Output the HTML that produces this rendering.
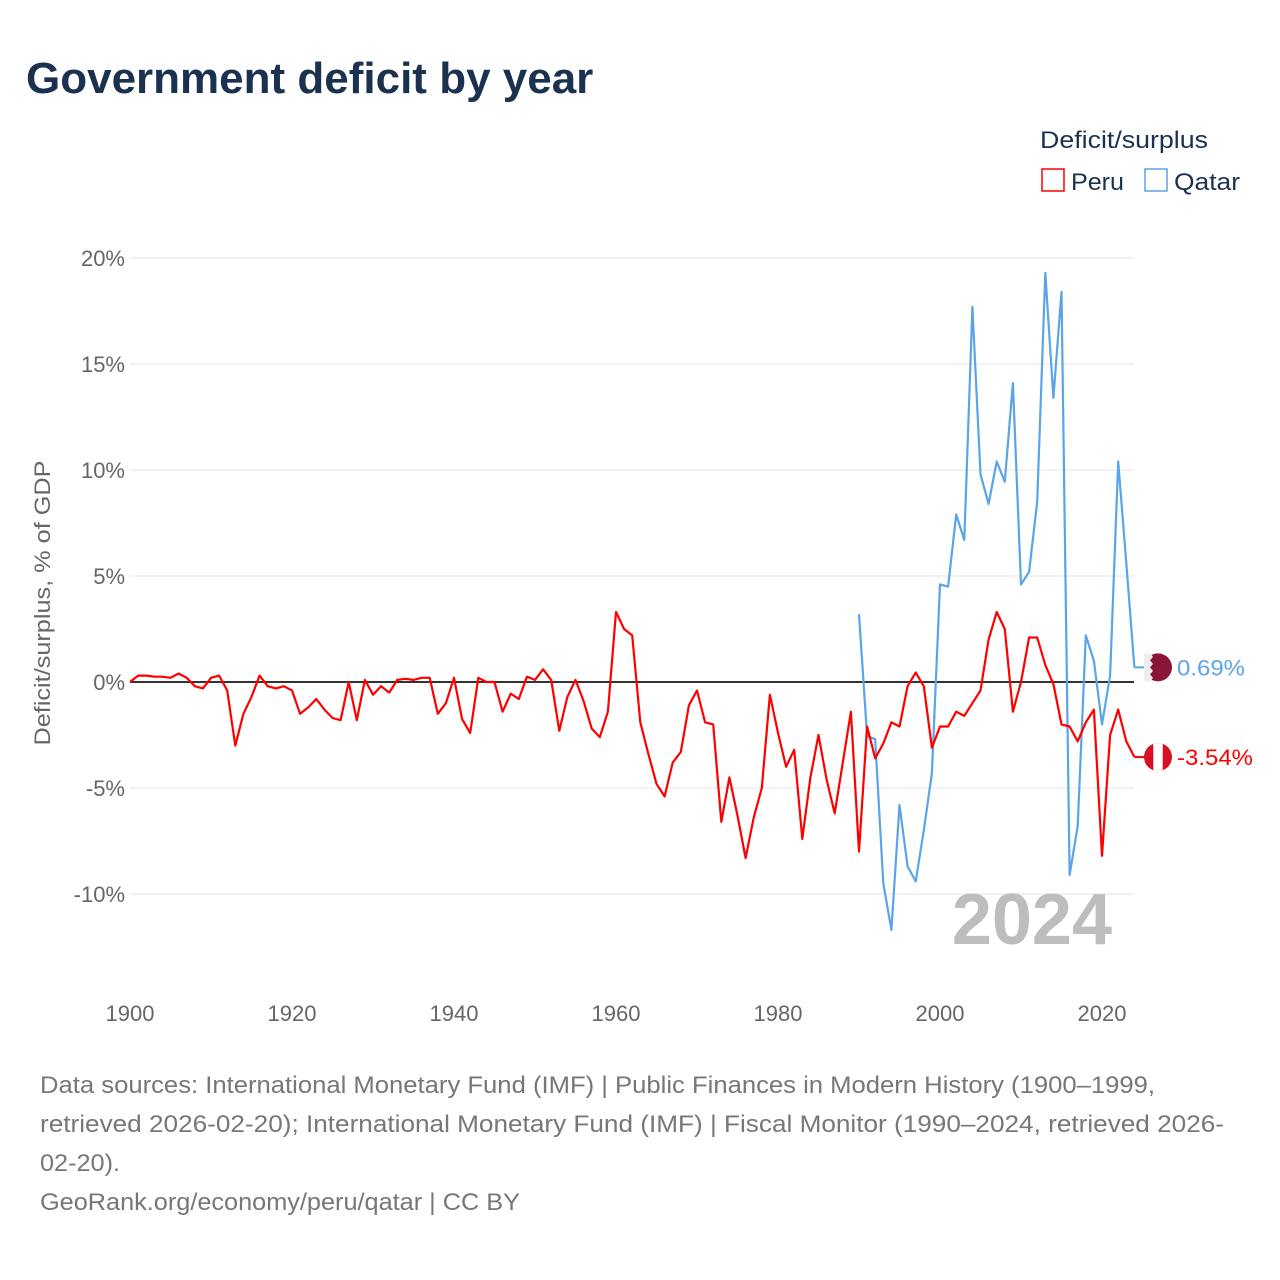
<!DOCTYPE html>
<html><head><meta charset="utf-8"><style>
body{margin:0;background:#fff;font-family:"Liberation Sans",sans-serif;}
#wrap{position:relative;width:1280px;height:1280px;overflow:hidden;}
</style></head><body>
<div id="wrap">
<svg id="chart" width="1280" height="1280" xmlns="http://www.w3.org/2000/svg">
<text x="26" y="93" font-size="44" font-weight="bold" fill="#1b3150">Government deficit by year</text>
<text x="1040" y="148" font-size="24" fill="#1b3150" textLength="168" lengthAdjust="spacingAndGlyphs">Deficit/surplus</text>
<g><rect x="1042" y="169" width="22" height="22" fill="none" stroke="#f00" stroke-width="1.5"/><text x="1071" y="190" font-size="24" fill="#1b3150" textLength="53" lengthAdjust="spacingAndGlyphs">Peru</text></g>
<g><rect x="1145" y="169" width="22" height="22" fill="none" stroke="#5ba4e8" stroke-width="1.5"/><text x="1174" y="190" font-size="24" fill="#1b3150" textLength="66" lengthAdjust="spacingAndGlyphs">Qatar</text></g>
<text transform="translate(50,603) rotate(-90)" text-anchor="middle" font-size="22" fill="#666" textLength="285" lengthAdjust="spacingAndGlyphs">Deficit/surplus, % of GDP</text>
<g id="grid"></g><g id="yticks"></g><g id="xticks"></g>
<text x="1112" y="944" text-anchor="end" font-size="72" font-weight="bold" fill="#bdbdbd">2024</text>
<g id="series"></g>
<g id="endlabels"></g>
<g font-size="24" fill="#777">
<text x="40" y="1093" textLength="1115" lengthAdjust="spacingAndGlyphs">Data sources: International Monetary Fund (IMF) | Public Finances in Modern History (1900–1999,</text>
<text x="40" y="1132" textLength="1184" lengthAdjust="spacingAndGlyphs">retrieved 2026-02-20); International Monetary Fund (IMF) | Fiscal Monitor (1990–2024, retrieved 2026-</text>
<text x="40" y="1171" textLength="80" lengthAdjust="spacingAndGlyphs">02-20).</text>
<text x="40" y="1210" textLength="480" lengthAdjust="spacingAndGlyphs">GeoRank.org/economy/peru/qatar | CC BY</text>
</g>
</svg>
</div>
<script>
const peruStart = 1900;
const peruValues = [0,0.3,0.3,0.25,0.25,0.2,0.4,0.2,-0.2,-0.3,0.2,0.3,-0.4,-3.0,-1.5,-0.7,0.3,-0.2,-0.3,-0.2,-0.4,-1.5,-1.2,-0.8,-1.3,-1.7,-1.8,0,-1.8,0.1,-0.6,-0.2,-0.5,0.1,0.15,0.1,0.2,0.2,-1.5,-1.0,0.2,-1.75,-2.4,0.2,0,0,-1.4,-0.55,-0.8,0.25,0.1,0.6,0.1,-2.3,-0.7,0.1,-0.9,-2.2,-2.6,-1.4,3.3,2.5,2.2,-1.9,-3.4,-4.8,-5.4,-3.8,-3.3,-1.1,-0.4,-1.9,-2.0,-6.6,-4.5,-6.3,-8.3,-6.4,-5.0,-0.6,-2.4,-4.0,-3.2,-7.4,-4.5,-2.5,-4.6,-6.2,-3.8,-1.4,-8.0,-2.1,-3.6,-2.9,-1.9,-2.1,-0.2,0.45,-0.2,-3.1,-2.1,-2.1,-1.4,-1.6,-1.0,-0.4,2.0,3.3,2.5,-1.4,0,2.1,2.1,0.8,-0.1,-2.0,-2.1,-2.8,-1.9,-1.3,-8.2,-2.5,-1.3,-2.8,-3.54];
const qatarStart = 1990;
const qatarValues = [3.2,-2.55,-2.7,-9.5,-11.7,-5.8,-8.7,-9.4,-7.0,-4.3,4.6,4.5,7.9,6.7,17.7,9.8,8.4,10.4,9.45,14.1,4.6,5.2,8.5,19.3,13.4,18.4,-9.1,-6.8,2.2,1.0,-2.0,0.3,10.4,5.6,0.69];
const yTickValues = [-10,-5,0,5,10,15,20];
const xTickValues = [1900,1920,1940,1960,1980,2000,2020];

const NS="http://www.w3.org/2000/svg";
const X=y=>130+(y-1900)*8.1;
const Y=v=>682-v*21.2;
function mk(t,a,p){const e=document.createElementNS(NS,t);for(const k in a)e.setAttribute(k,a[k]);p.appendChild(e);return e;}
const grid=document.getElementById('grid'),yt=document.getElementById('yticks'),xt=document.getElementById('xticks');
yTickValues.forEach(v=>{
  const l=mk('line',{x1:130,x2:1134,y1:Y(v),y2:Y(v),stroke:v===0?'#333':'#e6e6e6','stroke-width':v===0?2:1},grid);
  
  
  const t=mk('text',{x:125,y:Y(v)+8,'text-anchor':'end','font-size':22,fill:'#666'},yt);
  t.textContent=v+'%';
  
  
});
xTickValues.forEach(v=>{
  const t=mk('text',{x:X(v),y:1021,'text-anchor':'middle','font-size':22,fill:'#666'},xt);
  t.textContent=v;
  
  
});
const ser=document.getElementById('series');
function line(start,vals,color,name){
  const d=vals.map((v,i)=>(i?'L':'M')+X(start+i).toFixed(1)+','+Y(v).toFixed(1)).join('');
  const p=mk('path',{d:d,fill:'none',stroke:color,'stroke-width':2.2,'stroke-linejoin':'round'},ser);
  
  
  const lastX=X(start+vals.length-1), lastY=Y(vals[vals.length-1]);
  const e=mk('line',{x1:lastX,x2:lastX+10,y1:lastY,y2:lastY,stroke:color,'stroke-width':2},ser);
  
  
}
line(qatarStart,qatarValues,'#5ba4e8','qatar-line');
line(peruStart,peruValues,'#f00','peru-line');
const el=document.getElementById('endlabels');
const qy=Y(qatarValues[qatarValues.length-1]), py=Y(peruValues[peruValues.length-1]);
const qg=mk('g',{},el);


mk('circle',{cx:1158,cy:qy,r:14,fill:'#8a1538'},qg);
mk('path',{d:`M1144,${qy-14}h6l3,3.5l-3,3.5l3,3.5l-3,3.5l3,3.5l-3,3.5l3,3.5l-3,3.5h-6z`,fill:'#eee'},qg);
const qt=mk('text',{x:1177,y:qy+8,'font-size':22,fill:'#5ba4e8',textLength:68,lengthAdjust:'spacingAndGlyphs'},el);
qt.textContent=qatarValues[qatarValues.length-1].toFixed(2)+'%';


const pg=mk('g',{},el);


mk('clipPath',{id:'pc'},pg);
mk('circle',{cx:1158,cy:py,r:14},pg.querySelector('#pc'));
mk('rect',{x:1144,y:py-14,width:28,height:28,fill:'#d91023','clip-path':'url(#pc)'},pg);
mk('rect',{x:1153.3,y:py-14,width:9.4,height:28,fill:'#fff','clip-path':'url(#pc)'},pg);
const pt=mk('text',{x:1177,y:py+8,'font-size':22,fill:'#f00',textLength:76,lengthAdjust:'spacingAndGlyphs'},el);
pt.textContent=peruValues[peruValues.length-1].toFixed(2)+'%';


</script>
</body></html>
